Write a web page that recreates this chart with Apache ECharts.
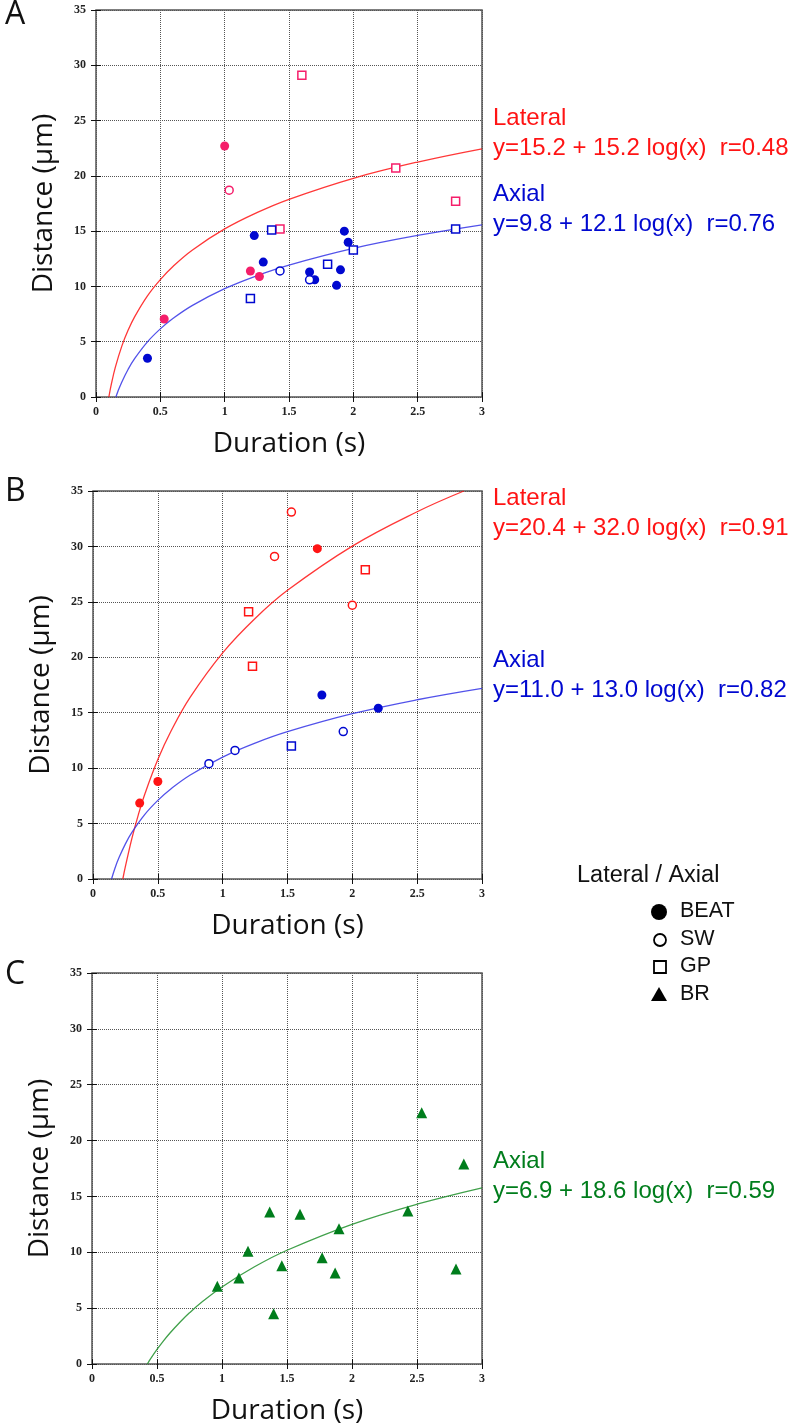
<!DOCTYPE html>
<html>
<head>
<meta charset="utf-8">
<script src="https://cdn.jsdelivr.net/npm/echarts@6/dist/echarts.min.js"></script>
<style>
	html, body { margin: 0; padding: 0; background: #fff; }
	#chart { width: 788px; height: 1426px; }
</style>
</head>
<body>
<div id="chart"></div>
<script>
// ---- data ----
var xTicks = [0, 0.5, 1, 1.5, 2, 2.5, 3];
var yTicks = [0, 5, 10, 15, 20, 25, 30, 35];

// panel A
var latBeatA = [[1.0, 22.7], [1.2, 11.4], [1.27, 10.9], [0.53, 7.05]];
var latSwA = [[1.035, 18.7]];
var latGpA = [[1.6, 29.1], [2.33, 20.7], [2.795, 17.7], [1.43, 15.2]];
var axBeatA = [[1.23, 14.6], [1.93, 15.0], [1.96, 14.0], [1.3, 12.2], [1.66, 11.3],
	[1.9, 11.5], [1.7, 10.6], [1.87, 10.1], [0.4, 3.5]];
var axSwA = [[1.43, 11.4], [1.66, 10.6]];
var axGpA = [[1.365, 15.1], [2.0, 13.3], [2.795, 15.2], [1.8, 12.0], [1.2, 8.9]];

// panel B
var latBeatB = [[1.73, 29.8], [0.5, 8.8], [0.36, 6.85]];
var latSwB = [[1.53, 33.1], [1.4, 29.1], [2.0, 24.7]];
var latGpB = [[2.1, 27.9], [1.2, 24.1], [1.23, 19.2]];
var axBeatB = [[1.765, 16.6], [2.2, 15.4]];
var axSwB = [[1.93, 13.3], [1.095, 11.6], [0.894, 10.4]];
var axGpB = [[1.53, 12.0]];

// panel C
var brC = [[2.536, 22.5], [2.86, 17.9], [1.367, 13.6], [1.6, 13.4], [2.43, 13.7],
	[1.9, 12.1], [1.2, 10.1], [1.77, 9.5], [1.46, 8.8], [1.87, 8.15], [2.8, 8.5],
	[1.13, 7.7], [0.964, 6.95], [1.397, 4.5]];

// fitted curves
var fitLatAx = [0.1, 0.12, 0.15, 0.2, 0.25, 0.3, 0.4, 0.5, 0.6, 0.75, 1, 1.25, 1.5, 2, 2.5, 3];
var fitLatAy = [0, 1.2, 2.68, 4.58, 6.05, 7.25, 9.15, 10.62, 11.83, 13.3, 15.2, 16.67, 17.88, 19.78, 21.25, 22.45];
var fitAxAx = [0.155, 0.17, 0.2, 0.25, 0.3, 0.4, 0.5, 0.6, 0.75, 1, 1.25, 1.5, 2, 2.5, 3];
var fitAxAy = [0, 0.49, 1.34, 2.51, 3.47, 4.99, 6.16, 7.12, 8.29, 9.8, 10.97, 11.93, 13.44, 14.61, 15.57];
var fitLatBx = [0.23, 0.25, 0.3, 0.35, 0.4, 0.5, 0.6, 0.75, 1, 1.25, 1.5, 2, 2.5, 2.86];
var fitLatBy = [0, 1.13, 3.67, 5.81, 7.67, 10.77, 13.3, 16.4, 20.4, 23.5, 26.04, 30.03, 33.13, 35];
var fitAxBx = [0.143, 0.17, 0.2, 0.25, 0.3, 0.4, 0.5, 0.6, 0.75, 1, 1.25, 1.5, 2, 2.5, 3];
var fitAxBy = [0, 1.0, 1.91, 3.17, 4.2, 5.83, 7.09, 8.12, 9.38, 11, 12.26, 13.29, 14.91, 16.17, 17.2];
var fitCx = [0.426, 0.45, 0.5, 0.55, 0.6, 0.68, 0.75, 0.85, 1, 1.25, 1.5, 2, 2.5, 3];
var fitCy = [0, 0.45, 1.3, 2.07, 2.77, 3.78, 4.58, 5.59, 6.9, 8.7, 10.18, 12.5, 14.3, 15.77];

// annotation texts
var eqA = ['Lateral', 'y=15.2 + 15.2 log(x)  r=0.48', 'Axial', 'y=9.8 + 12.1 log(x)  r=0.76'];
var eqB = ['Lateral', 'y=20.4 + 32.0 log(x)  r=0.91', 'Axial', 'y=11.0 + 13.0 log(x)  r=0.82'];
var eqC = ['Axial', 'y=6.9 + 18.6 log(x)  r=0.59'];
var legendNames = ['BEAT', 'SW', 'GP', 'BR'];

// ---- styles ----
var PINK = '#f51e6a', RED = '#ff1414', BLUE = '#0008d0', GREEN = '#007d1c';
var grids = [
	{ left: 96, top: 10, width: 386, height: 387 },
	{ left: 93, top: 491, width: 389, height: 388 },
	{ left: 92, top: 973, width: 390, height: 391 }
];

function pairs(xs, ys) {
	return xs.map(function(x, i) { return [x, ys[i]]; });
}

var myChart = echarts.init(document.getElementById('chart'));

var option = {
	animation: false,
	grid: [],
	xAxis: [],
	yAxis: [],
	series: [],
	graphic: []
};

var tickFont = { fontFamily: 'Liberation Serif', fontWeight: 'bold', fontSize: 12, color: '#222' };
var nameFont = { fontFamily: 'Open Sans', fontSize: 28, color: '#111' };

grids.forEach(function(g, i) {
	option.grid.push({ left: g.left, top: g.top, width: g.width, height: g.height,
		show: true, borderColor: '#555', borderWidth: 1.5, backgroundColor: '#fff' });
	// bottom x axis with labels
	option.xAxis.push({
		gridIndex: i, type: 'value', min: 0, max: 3, interval: 0.5, position: 'bottom',
		name: 'Duration (s)', nameLocation: 'middle', nameGap: 33, nameTextStyle: nameFont,
		axisLine: { show: false },
		axisTick: { show: true, inside: true, length: 5, lineStyle: { color: '#111' } },
		axisLabel: Object.assign({ margin: 9, formatter: function(v) { return xTicks.indexOf(v) >= 0 ? String(v) : ''; } }, tickFont),
		splitLine: { show: true, lineStyle: { type: 'dotted', color: '#555', width: 1 } }
	});
	// top x axis, ticks only
	option.xAxis.push({
		gridIndex: i, type: 'value', min: 0, max: 3, interval: 0.5, position: 'top',
		axisLine: { show: false }, axisLabel: { show: false }, splitLine: { show: false },
		axisTick: { show: true, inside: true, length: 5, lineStyle: { color: '#111' } }
	});
	option.yAxis.push({
		gridIndex: i, type: 'value', min: 0, max: 35, interval: 5, position: 'left',
		name: 'Distance (µm)', nameLocation: 'middle', nameGap: 38, nameTextStyle: nameFont,
		axisLine: { show: false },
		axisTick: { show: true, inside: true, length: 5, lineStyle: { color: '#111' } },
		axisLabel: Object.assign({ margin: 10, formatter: function(v) { return yTicks.indexOf(v) >= 0 ? String(v) : ''; } }, tickFont),
		splitLine: { show: true, lineStyle: { type: 'dotted', color: '#555', width: 1 } }
	});
	option.yAxis.push({
		gridIndex: i, type: 'value', min: 0, max: 35, interval: 5, position: 'right',
		axisLine: { show: false }, axisLabel: { show: false }, splitLine: { show: false },
		axisTick: { show: true, inside: true, length: 5, lineStyle: { color: '#111' } }
	});
});

function scatter(panel, data, shape, color, filled) {
	var size = shape === 'rect' ? 8 : (shape === 'triangle' ? 11 : (filled ? 9 : 8));
	option.series.push({
		type: 'scatter', xAxisIndex: panel * 2, yAxisIndex: panel * 2,
		data: data, symbol: shape, symbolSize: size, z: 3,
		itemStyle: filled ? { color: color, opacity: 1 } :
			{ color: '#fff', borderColor: color, borderWidth: 1.5, opacity: 1 }
	});
}

function curve(panel, xs, ys, color) {
	option.series.push({
		type: 'line', xAxisIndex: panel * 2, yAxisIndex: panel * 2,
		data: pairs(xs, ys), showSymbol: false, smooth: 0.4, z: 2,
		lineStyle: { color: color, width: 1.3, opacity: 0.85 }
	});
}

// panel A
curve(0, fitLatAx, fitLatAy, RED);
curve(0, fitAxAx, fitAxAy, '#3434e6');
scatter(0, latBeatA, 'circle', PINK, true);
scatter(0, latSwA, 'circle', PINK, false);
scatter(0, latGpA, 'rect', PINK, false);
scatter(0, axBeatA, 'circle', BLUE, true);
scatter(0, axSwA, 'circle', BLUE, false);
scatter(0, axGpA, 'rect', BLUE, false);

// panel B
curve(1, fitLatBx, fitLatBy, RED);
curve(1, fitAxBx, fitAxBy, '#3434e6');
scatter(1, latBeatB, 'circle', RED, true);
scatter(1, latSwB, 'circle', RED, false);
scatter(1, latGpB, 'rect', RED, false);
scatter(1, axBeatB, 'circle', BLUE, true);
scatter(1, axSwB, 'circle', BLUE, false);
scatter(1, axGpB, 'rect', BLUE, false);

// panel C
curve(2, fitCx, fitCy, '#1f8f2a');
scatter(2, brC, 'triangle', GREEN, true);

/*
 * texts: panel letters, equations, symbol legend
 */
function txt(str, x, y, size, color, family) {
	option.graphic.push({
		type: 'text', left: x, top: y - size * 0.5 - 1,
		style: { text: str, fontSize: size, fill: color, fontFamily: family || 'Liberation Sans' }
	});
}

txt('A', 5, 16, 32, '#111', 'Open Sans');
txt('B', 5, 493, 32, '#111', 'Open Sans');
txt('C', 5, 976, 32, '#111', 'Open Sans');

var EQ = 24;
txt(eqA[0], 493, 119, EQ, RED);
txt(eqA[1], 493, 149, EQ, RED);
txt(eqA[2], 493, 195, EQ, BLUE);
txt(eqA[3], 493, 225, EQ, BLUE);

txt(eqB[0], 493, 499, EQ, RED);
txt(eqB[1], 493, 529, EQ, RED);
txt(eqB[2], 493, 661, EQ, BLUE);
txt(eqB[3], 493, 691, EQ, BLUE);

txt(eqC[0], 493, 1162, EQ, GREEN);
txt(eqC[1], 493, 1192, EQ, GREEN);

txt('Lateral / Axial', 577, 876, 23.5, '#111');
var legY = [912, 940, 967, 995];
legendNames.forEach(function(n, i) {
	txt(n, 680, legY[i], 21.5, '#111');
});
option.graphic.push(
	{ type: 'circle', shape: { cx: 659, cy: legY[0], r: 8 }, style: { fill: '#000' } },
	{ type: 'circle', shape: { cx: 660, cy: legY[1], r: 6 }, style: { fill: '#fff', stroke: '#000', lineWidth: 1.8 } },
	{ type: 'rect', shape: { x: 654, y: legY[2] - 6, width: 12, height: 12 }, style: { fill: '#fff', stroke: '#000', lineWidth: 1.8 } },
	{ type: 'polygon', shape: { points: [[659, legY[3] - 8], [651, legY[3] + 6], [667, legY[3] + 6]] }, style: { fill: '#000' } }
);

myChart.setOption(option);
</script>
</body>
</html>
